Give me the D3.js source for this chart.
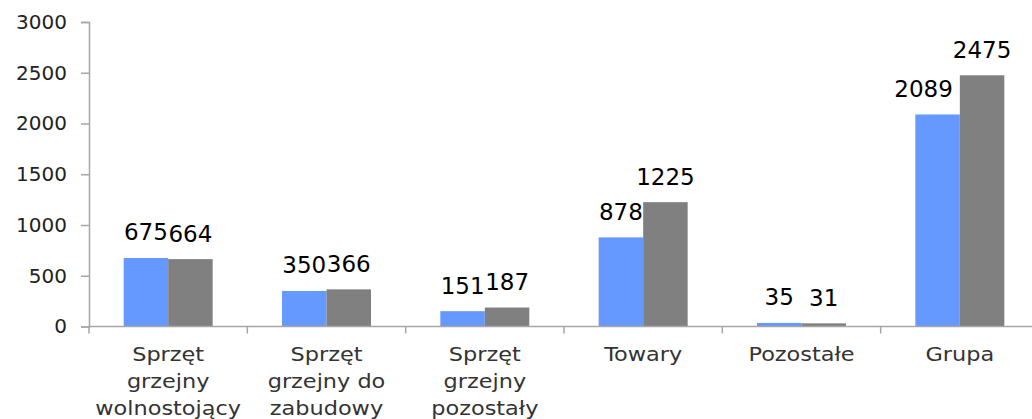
<!DOCTYPE html>
<html>
<head>
<meta charset="utf-8">
<script src="https://cdn.jsdelivr.net/npm/d3@7"></script>
<style>
  html, body { margin: 0; padding: 0; background: #fff; }
  svg { display: block; font-family: Verdana, "DejaVu Sans", sans-serif; }
</style>
</head>
<body>
<svg id="chart" width="1032" height="419"></svg>
<script>
const categories = [
    ["Sprzęt", "grzejny", "wolnostojący"],
    ["Sprzęt", "grzejny do", "zabudowy"],
    ["Sprzęt", "grzejny", "pozostały"],
    ["Towary"],
    ["Pozostałe"],
    ["Grupa"]
];
const seriesA = [675, 350, 151, 878, 35, 2089];
const seriesB = [664, 366, 187, 1225, 31, 2475];
const yTicks = [0, 500, 1000, 1500, 2000, 2500, 3000];

const colorA = "#6699FF";
const colorB = "#808080";
const axisColor = "#A6A6A6";

const svg = d3.select("#chart");
const plotLeft = 89, plotRight = 1039, plotTop = 22, plotBottom = 326.5;

const x = d3.scaleBand()
    .domain(d3.range(categories.length))
    .range([plotLeft, plotRight]);

const inner = d3.scaleBand()
    .domain([0, 1])
    .range([x.bandwidth() / 2 - 44.5, x.bandwidth() / 2 + 44.5]);

const y = d3.scaleLinear().domain([0, 3000]).range([plotBottom, plotTop]);

// y axis
const yAxis = svg.append("g")
    .attr("transform", `translate(${plotLeft},0)`)
    .call(d3.axisLeft(y).tickValues(yTicks).tickSize(8).tickPadding(14).tickFormat(d3.format("d")));
yAxis.select(".domain").attr("stroke", axisColor).attr("stroke-width", 1.5);
yAxis.selectAll(".tick line").attr("stroke", axisColor).attr("stroke-width", 1.5);
yAxis.selectAll(".tick text")
    .attr("fill", "#222")
    .style("font-size", "20px")
    .style("font-family", "Verdana, 'DejaVu Sans', sans-serif");

// bars
const groups = svg.append("g").selectAll("g")
    .data(categories.map((c, i) => [seriesA[i], seriesB[i]]))
    .enter()
    .append("g")
    .attr("transform", (d, i) => `translate(${x(i)},0)`);

groups.selectAll("rect")
    .data(d => d)
    .enter()
    .append("rect")
    .attr("x", (d, j) => inner(j))
    .attr("y", d => y(d))
    .attr("width", inner.bandwidth())
    .attr("height", d => plotBottom - y(d))
    .attr("fill", (d, j) => j === 0 ? colorA : colorB);

// x axis (drawn over the bars)
const xAxisG = svg.append("g");
xAxisG.append("line")
    .attr("x1", plotLeft).attr("x2", plotRight)
    .attr("y1", plotBottom).attr("y2", plotBottom)
    .attr("stroke", axisColor).attr("stroke-width", 1.5);
xAxisG.selectAll("line.tick")
    .data(d3.range(categories.length + 1))
    .enter()
    .append("line")
    .attr("class", "tick")
    .attr("x1", i => plotLeft + i * x.step())
    .attr("x2", i => plotLeft + i * x.step())
    .attr("y1", plotBottom)
    .attr("y2", plotBottom + 7)
    .attr("stroke", axisColor).attr("stroke-width", 1.5);

// category labels (slightly widened, like the original's font)
const catLabels = svg.append("g").selectAll("text")
    .data(categories)
    .enter()
    .append("text")
    .attr("transform", (d, i) => `translate(${x(i) + x.bandwidth() / 2},361) scale(1.12,1)`)
    .attr("text-anchor", "middle")
    .attr("fill", "#333")
    .style("font-size", "20px");
catLabels.selectAll("tspan")
    .data(d => d)
    .enter()
    .append("tspan")
    .attr("x", 0)
    .attr("dy", (d, k) => k === 0 ? 0 : 27)
    .text(d => d);

// value labels: centred over each bar; moved left if it would hit a taller neighbour bar
const labelG = svg.append("g");
categories.forEach((c, i) => {
    const vals = [seriesA[i], seriesB[i]];
    vals.forEach((v, j) => {
        const cx = x(i) + inner(j) + inner.bandwidth() / 2;
        const t = labelG.append("text")
            .attr("x", cx)
            .attr("y", y(v) - 17.5)
            .attr("text-anchor", "middle")
            .attr("fill", "#000")
            .style("font-size", "23px")
            .text(v);
        if (j === 0 && vals[1] > v) {
            const w = t.node().getComputedTextLength();
            const nextLeft = x(i) + inner(1);
            const labelTop = y(v) - 17.5 - 17;
            if (y(vals[1]) < labelTop && cx + w / 2 > nextLeft) {
                t.attr("x", nextLeft - 7 - w / 2);
            }
        }
    });
});
</script>
</body>
</html>
